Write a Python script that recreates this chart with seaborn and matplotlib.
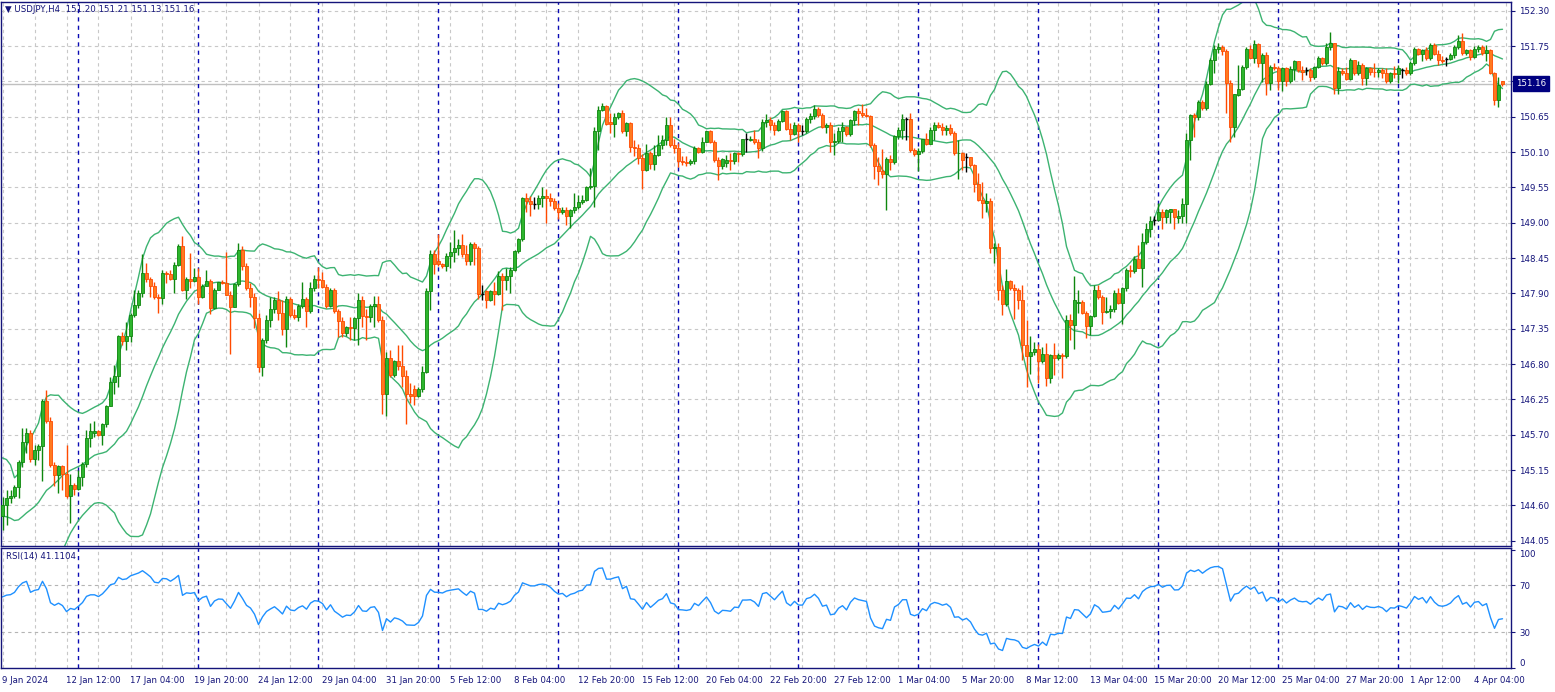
import numpy as np
import pandas as pd
import matplotlib
matplotlib.use('Agg')
import matplotlib.pyplot as plt
import matplotlib.transforms as mtransforms
import seaborn as sns

symbol = 'USDJPY'
timeframe = 'H4'
first_bar = '2024-01-09 20:00'

# closes of the bars before the first visible one (estimated, they only feed the bands / RSI)
pre_close = [143.80, 144.10, 144.40, 144.30, 144.60, 144.75,
             144.90, 145.20, 145.60, 145.05, 144.55, 144.60, 144.38, 144.45, 144.21, 144.30,
             144.08, 144.25, 143.95, 144.05, 143.70, 143.98, 144.10, 144.28, 144.43]

open_ = [
    144.43, 144.60, 144.71, 144.74, 144.88, 145.27, 145.58, 145.72, 145.32, 145.46,
    145.52, 146.22, 145.92, 145.23, 145.08, 145.22, 145.09, 144.74, 144.92, 144.86,
    145.04, 145.25, 145.65, 145.72, 145.76, 145.69, 145.86, 146.15, 146.52, 146.61,
    147.24, 147.16, 147.23, 147.56, 147.72, 147.90, 148.21, 148.12, 148.02, 147.85,
    147.83, 148.21, 148.20, 148.13, 148.34, 148.64, 147.95, 148.12, 148.10, 148.15,
    147.84, 148.02, 148.09, 147.67, 147.96, 148.08, 148.06, 147.88, 147.69, 148.04,
    148.58, 148.32, 147.99, 147.85, 147.51, 146.76, 147.17, 147.49, 147.65, 147.79,
    147.59, 147.34, 147.81, 147.57, 147.53, 147.71, 147.81, 147.63, 147.98, 148.13,
    148.11, 148.00, 147.70, 147.96, 147.63, 147.47, 147.29, 147.38, 147.36, 147.51,
    147.80, 147.55, 147.53, 147.70, 147.73, 147.49, 146.33, 146.89, 146.63, 146.85,
    146.77, 146.62, 146.33, 146.41, 146.30, 146.41, 146.68, 147.94, 148.51, 148.40,
    148.35, 148.32, 148.48, 148.55, 148.60, 148.65, 148.52, 148.41, 148.67, 148.60,
    147.89, 147.94, 147.80, 147.94, 147.89, 148.17, 148.11, 148.17, 148.27, 148.56,
    148.74, 149.39, 149.34, 149.29, 149.29, 149.38, 149.41, 149.39, 149.33, 149.23,
    149.16, 149.19, 149.11, 149.20, 149.24, 149.32, 149.35, 149.55, 149.57, 150.43,
    150.76, 150.81, 150.56, 150.54, 150.64, 150.71, 150.42, 150.55, 150.18, 150.16,
    150.00, 149.82, 150.09, 149.91, 150.05, 150.21, 150.28, 150.52, 150.21, 150.17,
    149.96, 149.95, 149.93, 149.96, 150.17, 150.10, 150.26, 150.42, 150.26, 149.98,
    149.88, 149.93, 149.98, 149.96, 150.09, 150.07, 150.30, 150.28, 150.31, 150.26,
    150.16, 150.56, 150.60, 150.52, 150.44, 150.59, 150.74, 150.46, 150.38, 150.52,
    150.42, 150.42, 150.62, 150.66, 150.77, 150.68, 150.49, 150.52, 150.25, 150.27,
    150.42, 150.49, 150.38, 150.60, 150.74, 150.70, 150.68, 150.66, 150.21, 149.88,
    149.80, 149.76, 149.99, 149.95, 150.35, 150.44, 150.62, 150.62, 150.13, 150.07,
    150.12, 150.30, 150.23, 150.45, 150.52, 150.49, 150.44, 150.48, 150.39, 150.08,
    150.09, 150.02, 150.02, 149.90, 149.61, 149.35, 149.30, 149.34, 148.60, 148.62,
    147.96, 147.74, 148.09, 147.99, 147.95, 147.80, 147.10, 146.92, 146.99, 147.04,
    146.85, 146.96, 146.59, 146.94, 146.89, 146.94, 146.92, 147.49, 147.41, 147.75,
    147.77, 147.59, 147.39, 147.55, 147.96, 147.85, 147.61, 147.63, 147.66, 147.90,
    147.75, 147.98, 148.26, 148.25, 148.44, 148.30, 148.70, 148.90, 149.04, 149.04,
    149.17, 149.09, 149.17, 149.21, 149.08, 149.10, 149.29, 150.29, 150.68, 150.64,
    150.88, 150.78, 151.16, 151.53, 151.71, 151.74, 151.68, 151.18, 150.49, 150.99,
    151.08, 151.42, 151.71, 151.57, 151.78, 151.48, 151.61, 151.17, 151.43, 151.40,
    151.21, 151.40, 151.21, 151.39, 151.51, 151.38, 151.37, 151.37, 151.26, 151.43,
    151.56, 151.48, 151.74, 151.79, 151.09, 151.36, 151.33, 151.23, 151.53, 151.33,
    151.45, 151.25, 151.40, 151.35, 151.34, 151.38, 151.33, 151.20, 151.33, 151.32,
    151.37, 151.37, 151.33, 151.48, 151.70, 151.63, 151.69, 151.56, 151.77, 151.63,
    151.54, 151.55, 151.55, 151.61, 151.74, 151.83, 151.64, 151.69, 151.58, 151.71,
    151.73, 151.64, 151.69, 151.33, 150.91, 151.20]

high = [
    144.73, 144.84, 144.84, 144.92, 145.30, 145.80, 145.80, 145.78, 145.54, 145.56,
    146.25, 146.39, 145.98, 145.27, 145.23, 145.23, 145.54, 145.09, 144.95, 145.15,
    145.27, 145.77, 145.89, 145.91, 145.78, 145.89, 146.17, 146.60, 146.79, 147.25,
    147.30, 147.45, 147.59, 147.95, 147.96, 148.51, 148.38, 148.15, 148.07, 147.89,
    148.26, 148.25, 148.26, 148.39, 148.67, 148.79, 148.15, 148.53, 148.29, 148.30,
    148.04, 148.27, 148.12, 147.98, 148.08, 148.11, 148.55, 147.93, 148.06, 148.68,
    148.63, 148.38, 148.06, 147.90, 147.60, 147.20, 147.56, 147.85, 147.85, 147.94,
    147.80, 147.86, 147.84, 147.66, 147.73, 148.08, 147.85, 148.08, 148.19, 148.31,
    148.24, 148.04, 147.98, 147.98, 147.65, 147.53, 147.39, 147.54, 147.54, 147.90,
    147.86, 147.65, 147.73, 147.86, 147.86, 147.55, 146.99, 147.02, 146.87, 147.10,
    147.10, 146.70, 146.50, 146.48, 146.45, 146.77, 147.98, 148.57, 148.57, 148.82,
    148.37, 148.53, 148.70, 148.88, 148.74, 148.83, 148.65, 148.70, 148.70, 148.63,
    148.03, 147.95, 147.96, 148.08, 148.25, 148.22, 148.29, 148.31, 148.58, 148.76,
    149.40, 149.46, 149.41, 149.40, 149.43, 149.56, 149.52, 149.46, 149.38, 149.30,
    149.25, 149.25, 149.21, 149.46, 149.43, 149.43, 149.57, 149.85, 150.49, 150.81,
    150.87, 150.83, 150.70, 150.70, 150.73, 150.75, 150.57, 150.57, 150.28, 150.23,
    150.07, 150.23, 150.11, 150.21, 150.36, 150.36, 150.65, 150.64, 150.30, 150.24,
    150.04, 150.04, 149.99, 150.19, 150.18, 150.34, 150.43, 150.44, 150.28, 150.03,
    150.00, 150.05, 150.08, 150.10, 150.10, 150.31, 150.39, 150.35, 150.44, 150.30,
    150.62, 150.69, 150.64, 150.56, 150.61, 150.76, 150.76, 150.55, 150.56, 150.55,
    150.52, 150.65, 150.70, 150.83, 150.80, 150.70, 150.55, 150.56, 150.39, 150.49,
    150.56, 150.51, 150.62, 150.76, 150.78, 150.85, 150.78, 150.67, 150.24, 150.03,
    150.14, 150.03, 150.05, 150.36, 150.49, 150.69, 150.65, 150.70, 150.16, 150.16,
    150.31, 150.39, 150.49, 150.56, 150.56, 150.55, 150.52, 150.54, 150.42, 150.28,
    150.10, 150.08, 150.03, 149.92, 149.77, 149.64, 149.46, 149.39, 148.68, 148.68,
    148.03, 148.28, 148.11, 148.04, 147.98, 148.03, 147.48, 147.24, 147.15, 147.11,
    147.06, 147.12, 146.96, 147.12, 146.97, 146.97, 147.56, 147.58, 148.17, 147.95,
    147.80, 147.63, 147.56, 148.03, 148.03, 147.87, 147.85, 147.72, 147.95, 147.98,
    148.00, 148.30, 148.34, 148.48, 148.65, 148.84, 149.00, 149.10, 149.10, 149.31,
    149.21, 149.22, 149.22, 149.22, 149.20, 149.38, 150.40, 150.69, 150.71, 150.91,
    150.91, 151.20, 151.56, 151.77, 151.79, 151.77, 151.70, 151.22, 151.01, 151.46,
    151.46, 151.74, 151.77, 151.85, 151.79, 151.64, 151.66, 151.45, 151.48, 151.44,
    151.43, 151.43, 151.44, 151.54, 151.52, 151.44, 151.43, 151.40, 151.44, 151.60,
    151.58, 151.79, 151.97, 151.80, 151.43, 151.40, 151.43, 151.56, 151.54, 151.51,
    151.48, 151.43, 151.43, 151.48, 151.40, 151.40, 151.40, 151.35, 151.44, 151.45,
    151.40, 151.43, 151.51, 151.74, 151.72, 151.71, 151.74, 151.80, 151.79, 151.69,
    151.59, 151.58, 151.64, 151.77, 151.92, 151.95, 151.71, 151.70, 151.75, 151.77,
    151.77, 151.77, 151.70, 151.35, 151.27, 151.21]

low = [
    144.21, 144.29, 144.63, 144.71, 144.72, 145.20, 145.41, 145.28, 145.23, 145.30,
    144.98, 145.89, 145.20, 144.90, 144.80, 144.84, 144.72, 144.32, 144.76, 144.84,
    144.90, 145.20, 145.51, 145.66, 145.68, 145.54, 145.82, 146.14, 146.34, 146.45,
    147.10, 147.02, 147.15, 147.54, 147.68, 147.85, 148.08, 147.85, 147.82, 147.60,
    147.73, 148.06, 148.11, 147.90, 148.32, 147.94, 147.82, 147.98, 148.08, 147.73,
    147.83, 148.02, 147.58, 147.66, 147.95, 148.05, 147.87, 146.95, 147.69, 148.02,
    148.26, 147.96, 147.69, 147.36, 146.68, 146.62, 147.12, 147.37, 147.59, 147.48,
    147.25, 147.06, 147.54, 147.50, 147.47, 147.68, 147.38, 147.60, 147.93, 147.98,
    147.99, 147.68, 147.69, 147.59, 147.22, 147.22, 147.24, 147.18, 147.18, 147.10,
    147.38, 147.17, 147.46, 147.37, 147.46, 146.03, 145.99, 146.60, 146.60, 146.70,
    146.45, 145.86, 146.19, 146.17, 146.28, 146.37, 146.66, 147.64, 148.20, 148.33,
    148.29, 148.25, 148.29, 148.39, 148.50, 148.47, 148.34, 148.34, 148.34, 147.82,
    147.79, 147.68, 147.78, 147.72, 147.87, 147.64, 147.95, 147.90, 148.25, 148.53,
    148.71, 149.17, 149.11, 149.22, 149.21, 149.25, 148.99, 149.26, 149.20, 149.05,
    149.13, 148.96, 148.91, 149.15, 149.21, 149.29, 149.33, 149.53, 149.24, 150.13,
    150.74, 150.52, 150.39, 150.34, 150.62, 150.39, 150.35, 150.10, 150.04, 149.92,
    149.53, 149.80, 149.83, 149.82, 150.04, 150.14, 150.21, 150.18, 150.09, 149.86,
    149.90, 149.88, 149.90, 149.92, 150.09, 150.08, 150.25, 150.24, 149.95, 149.66,
    149.83, 149.86, 149.82, 149.92, 149.95, 150.04, 150.10, 150.27, 150.22, 150.00,
    150.11, 150.49, 150.44, 150.36, 150.42, 150.57, 150.44, 150.29, 150.36, 150.26,
    150.36, 150.39, 150.55, 150.62, 150.64, 150.47, 150.39, 150.10, 150.05, 150.24,
    150.26, 150.35, 150.35, 150.52, 150.52, 150.65, 150.64, 150.18, 149.68, 149.59,
    149.69, 149.19, 149.82, 149.92, 150.31, 150.30, 150.29, 150.10, 150.04, 149.81,
    150.08, 150.21, 150.22, 150.29, 150.48, 150.36, 150.36, 150.36, 150.05, 149.68,
    149.82, 149.79, 149.87, 149.48, 149.34, 149.08, 149.17, 148.53, 148.38, 147.79,
    147.56, 147.70, 147.96, 147.50, 147.65, 146.86, 146.45, 146.65, 146.94, 146.51,
    146.81, 146.46, 146.50, 146.63, 146.87, 146.59, 146.89, 147.18, 147.04, 147.59,
    147.58, 147.20, 147.25, 147.54, 147.82, 147.42, 147.59, 147.51, 147.61, 147.73,
    147.42, 147.94, 148.16, 148.21, 148.29, 148.00, 148.67, 148.78, 148.96, 149.03,
    148.90, 148.99, 148.99, 148.90, 149.00, 149.00, 149.00, 149.98, 150.33, 150.60,
    150.76, 150.76, 151.14, 151.33, 151.64, 151.61, 150.70, 150.25, 150.33, 150.97,
    151.07, 151.39, 151.56, 151.49, 151.42, 151.19, 150.99, 151.07, 151.37, 151.07,
    151.05, 151.13, 151.17, 151.22, 151.35, 151.22, 151.30, 151.20, 151.23, 151.40,
    151.45, 151.45, 151.69, 151.01, 151.00, 151.30, 151.22, 151.22, 151.30, 151.30,
    151.14, 151.14, 151.30, 151.26, 151.27, 151.25, 151.18, 151.17, 151.25, 151.17,
    151.25, 151.30, 151.30, 151.45, 151.61, 151.51, 151.53, 151.53, 151.61, 151.45,
    151.49, 151.44, 151.53, 151.57, 151.70, 151.61, 151.61, 151.54, 151.56, 151.66,
    151.61, 151.51, 151.32, 150.83, 150.80, 151.13]

close = [
    144.60, 144.71, 144.74, 144.88, 145.27, 145.58, 145.72, 145.32, 145.46, 145.52,
    146.22, 145.92, 145.23, 145.08, 145.22, 145.09, 144.74, 144.92, 144.86, 145.04,
    145.25, 145.65, 145.76, 145.76, 145.69, 145.86, 146.15, 146.52, 146.61, 147.24,
    147.16, 147.23, 147.56, 147.72, 147.90, 148.21, 148.12, 148.02, 147.85, 147.83,
    148.21, 148.20, 148.13, 148.34, 148.64, 147.95, 148.12, 148.10, 148.15, 147.84,
    148.02, 148.09, 147.67, 147.96, 148.07, 148.06, 147.88, 147.69, 148.04, 148.58,
    148.32, 147.99, 147.85, 147.51, 146.76, 147.17, 147.49, 147.65, 147.79, 147.59,
    147.34, 147.81, 147.57, 147.53, 147.71, 147.81, 147.63, 147.98, 148.13, 148.11,
    148.00, 147.70, 147.96, 147.63, 147.47, 147.29, 147.38, 147.36, 147.51, 147.80,
    147.55, 147.53, 147.70, 147.73, 147.49, 146.33, 146.89, 146.63, 146.85, 146.77,
    146.62, 146.33, 146.31, 146.30, 146.41, 146.68, 147.94, 148.51, 148.36, 148.35,
    148.32, 148.48, 148.55, 148.60, 148.65, 148.52, 148.41, 148.67, 148.60, 147.89,
    147.89, 147.80, 147.94, 147.89, 148.17, 148.11, 148.17, 148.27, 148.56, 148.74,
    149.39, 149.34, 149.29, 149.29, 149.38, 149.41, 149.39, 149.33, 149.23, 149.16,
    149.19, 149.11, 149.20, 149.24, 149.32, 149.35, 149.55, 149.57, 150.43, 150.76,
    150.81, 150.54, 150.54, 150.64, 150.71, 150.42, 150.55, 150.18, 150.16, 150.00,
    149.82, 150.09, 149.91, 150.05, 150.21, 150.28, 150.52, 150.21, 150.17, 149.96,
    149.95, 149.93, 149.96, 150.17, 150.10, 150.26, 150.42, 150.26, 149.98, 149.88,
    149.99, 149.98, 149.96, 150.08, 150.07, 150.30, 150.30, 150.31, 150.26, 150.16,
    150.56, 150.60, 150.52, 150.44, 150.59, 150.74, 150.46, 150.38, 150.52, 150.42,
    150.42, 150.62, 150.66, 150.77, 150.68, 150.49, 150.52, 150.25, 150.27, 150.42,
    150.49, 150.38, 150.60, 150.74, 150.70, 150.68, 150.66, 150.21, 149.88, 149.80,
    149.76, 149.99, 149.95, 150.35, 150.44, 150.62, 150.62, 150.13, 150.07, 150.12,
    150.30, 150.23, 150.45, 150.52, 150.49, 150.44, 150.48, 150.39, 150.08, 150.09,
    149.98, 150.02, 149.90, 149.61, 149.35, 149.30, 149.34, 148.60, 148.62, 147.96,
    147.74, 148.09, 147.99, 147.95, 147.80, 147.10, 146.92, 146.99, 147.04, 146.85,
    146.96, 146.59, 146.94, 146.89, 146.94, 146.92, 147.49, 147.41, 147.79, 147.77,
    147.59, 147.39, 147.55, 147.96, 147.85, 147.61, 147.63, 147.66, 147.90, 147.75,
    147.98, 148.26, 148.25, 148.44, 148.30, 148.70, 148.90, 149.02, 149.04, 149.17,
    149.09, 149.20, 149.21, 149.09, 149.10, 149.29, 150.29, 150.68, 150.64, 150.88,
    150.78, 151.16, 151.53, 151.71, 151.74, 151.68, 151.18, 150.49, 151.00, 151.08,
    151.42, 151.71, 151.57, 151.78, 151.48, 151.61, 151.17, 151.43, 151.40, 151.21,
    151.40, 151.21, 151.39, 151.51, 151.38, 151.35, 151.37, 151.26, 151.43, 151.56,
    151.48, 151.74, 151.79, 151.09, 151.36, 151.33, 151.23, 151.53, 151.33, 151.45,
    151.25, 151.40, 151.35, 151.34, 151.38, 151.33, 151.20, 151.33, 151.32, 151.40,
    151.37, 151.33, 151.48, 151.70, 151.63, 151.69, 151.56, 151.77, 151.63, 151.54,
    151.52, 151.55, 151.61, 151.74, 151.83, 151.64, 151.69, 151.58, 151.71, 151.73,
    151.64, 151.69, 151.33, 150.91, 151.14, 151.16]

price_ticks = [144.05, 144.60, 145.15, 145.70, 146.25, 146.80, 147.35, 147.90,
               148.45, 149.00, 149.55, 150.10, 150.65, 151.20, 151.75, 152.30]
rsi_ticks = [0, 30, 70, 100]
rsi_levels = [30, 70]
rsi_title = 'RSI(14) 41.1104'

# colours
navy = '#14147a'
bull_fill, bull_edge = '#2db52d', '#0e870e'
bear_fill, bear_edge = '#ff7a1f', '#ff4a00'
band_col = '#3cb371'
rsi_col = '#1e90ff'
grid_col = '#c8c8c8'
sep_col = '#0a0ab4'

n = len(close)
o, h, l, c = (np.array(a) for a in (open_, high, low, close))
x = np.arange(n)

# bar times (trading days only) -> labels and weekly separators
t_all = pd.date_range(first_bar, periods=700, freq='4h')
times = t_all[t_all.dayofweek < 5][:n]
label_bars = list(range(0, n, 16))
tick_labels = [f"{times[0].day} {times[0]:%b %Y}"] + \
              [f"{times[i].day} {times[i]:%b %H:%M}" for i in label_bars[1:]]
sep_bars = [i for i in range(n) if times[i].dayofweek == 0 and times[i].hour == 0]

# Bollinger(20, 2) and RSI(14) from the closes
s = pd.Series(pre_close + close)
k = len(pre_close)
mid = s.rolling(20).mean()
sd = s.rolling(20).std(ddof=0)
bb_mid = mid.to_numpy()[k:]
bb_up = (mid + 2 * sd).to_numpy()[k:]
bb_dn = (mid - 2 * sd).to_numpy()[k:]


def wilder(v, period=14):
    # SMA seed, then Wilder smoothing (as the terminal does it)
    out = np.full(len(v), np.nan)
    out[period] = v[1:period + 1].mean()
    for i in range(period + 1, len(v)):
        out[i] = (out[i - 1] * (period - 1) + v[i]) / period
    return out


d = s.diff().to_numpy()
ag = wilder(np.clip(d, 0, None))
al = wilder(np.clip(-d, 0, None))
rsi = (100 - 100 / (1 + ag / al))[k:]

sns.set_style('white')
plt.rcParams['font.family'] = ['DejaVu Sans']
fs = 6.2

W, H = 1555, 692
fig = plt.figure(figsize=(W / 100, H / 100), dpi=100)
ax = fig.add_axes([1 / W, 146 / H, 1510 / W, 544 / H])
ax2 = fig.add_axes([1 / W, 24 / H, 1510 / W, 120 / H])

dash = (0, (3, 3))
for a in (ax, ax2):
    for xb in range(0, n + 8, 8):
        a.axvline(xb, color=grid_col, lw=0.8, ls=dash, zorder=0)
    for b in sep_bars:
        a.axvline(b, color=sep_col, lw=1, ls=dash, zorder=1)
    a.set_xlim(-0.375, 377.125)
    for sp in a.spines.values():
        sp.set_color(navy)
        sp.set_linewidth(1)

# ---- price panel
for p in price_ticks:
    ax.axhline(p, color=grid_col, lw=0.8, ls=dash, zorder=0)
ax.axhline(c[-1], color='#c0c0c0', lw=1, zorder=0.5)

up = c > o
dn = c < o
dj = c == o
ax.vlines(x[up], l[up], h[up], color=bull_edge, lw=1, zorder=3)
ax.bar(x[up], (c - o)[up], bottom=o[up], width=0.72, color=bull_fill,
       edgecolor=bull_edge, linewidth=0.6, zorder=4)
ax.vlines(x[dn], l[dn], h[dn], color=bear_edge, lw=1, zorder=3)
ax.bar(x[dn], (o - c)[dn], bottom=c[dn], width=0.72, color=bear_fill,
       edgecolor=bear_edge, linewidth=0.6, zorder=4)
ax.vlines(x[dj], l[dj], h[dj], color='black', lw=1, zorder=3)
ax.hlines(o[dj], x[dj] - 0.4, x[dj] + 0.4, color='black', lw=1, zorder=4)

for band in (bb_up, bb_mid, bb_dn):
    sns.lineplot(x=x, y=band, ax=ax, color=band_col, lw=1, estimator=None, zorder=2)

ax.set_ylim(143.968, 152.435)
ax.yaxis.tick_right()
ax.set_yticks(price_ticks)
ax.set_yticklabels(['' if abs(p - c[-1]) < 0.1 else f'{p:.2f}' for p in price_ticks])
ax.tick_params(axis='y', direction='out', length=3, width=0.8, colors=navy,
               labelsize=fs, pad=3)
ax.tick_params(axis='x', bottom=False, labelbottom=False)
ax.set_xlabel('')
ax.set_ylabel('')

trans = mtransforms.blended_transform_factory(ax.transAxes, ax.transData)
ax.text(1.0035, c[-1], f'{c[-1]:.2f}', transform=trans, color='white', fontsize=fs,
        va='center', ha='left', zorder=10, clip_on=False,
        bbox=dict(boxstyle='square,pad=0.35', fc='#000080', ec='#000080'))

fig.text(5 / W, 1 - 10 / H,
         f'\u25bc {symbol},{timeframe}  {o[-1]:.2f} {h[-1]:.2f} {l[-1]:.2f} {c[-1]:.2f}',
         color=navy, fontsize=fs, va='center', ha='left')

# ---- RSI panel
for lv in rsi_levels:
    ax2.axhline(lv, color='#b4b4b4', lw=0.8, ls=dash, zorder=0)
sns.lineplot(x=x, y=rsi, ax=ax2, color=rsi_col, lw=1, estimator=None, zorder=2)
ax2.set_ylim(-0.2, 101.3)
ax2.yaxis.tick_right()
ax2.set_yticks(rsi_ticks)
ax2.set_yticklabels([str(v) for v in rsi_ticks])
ax2.tick_params(axis='y', direction='out', length=3, width=0.8, colors=navy,
                labelsize=fs, pad=3)
lbls = ax2.get_yticklabels()
lbls[0].set_va('bottom')
lbls[-1].set_va('top')
ax2.set_xticks(label_bars)
ax2.set_xticklabels(tick_labels)
ax2.tick_params(axis='x', direction='out', length=4, width=0.8, colors=navy,
                labelsize=fs, pad=2)
for t in ax2.get_xticklabels():
    t.set_ha('left')
ax2.set_xlabel('')
ax2.set_ylabel('')
fig.text(6 / W, 1 - 557 / H, rsi_title, color=navy, fontsize=fs, va='center', ha='left')

fig.savefig('out.png', dpi=100)
